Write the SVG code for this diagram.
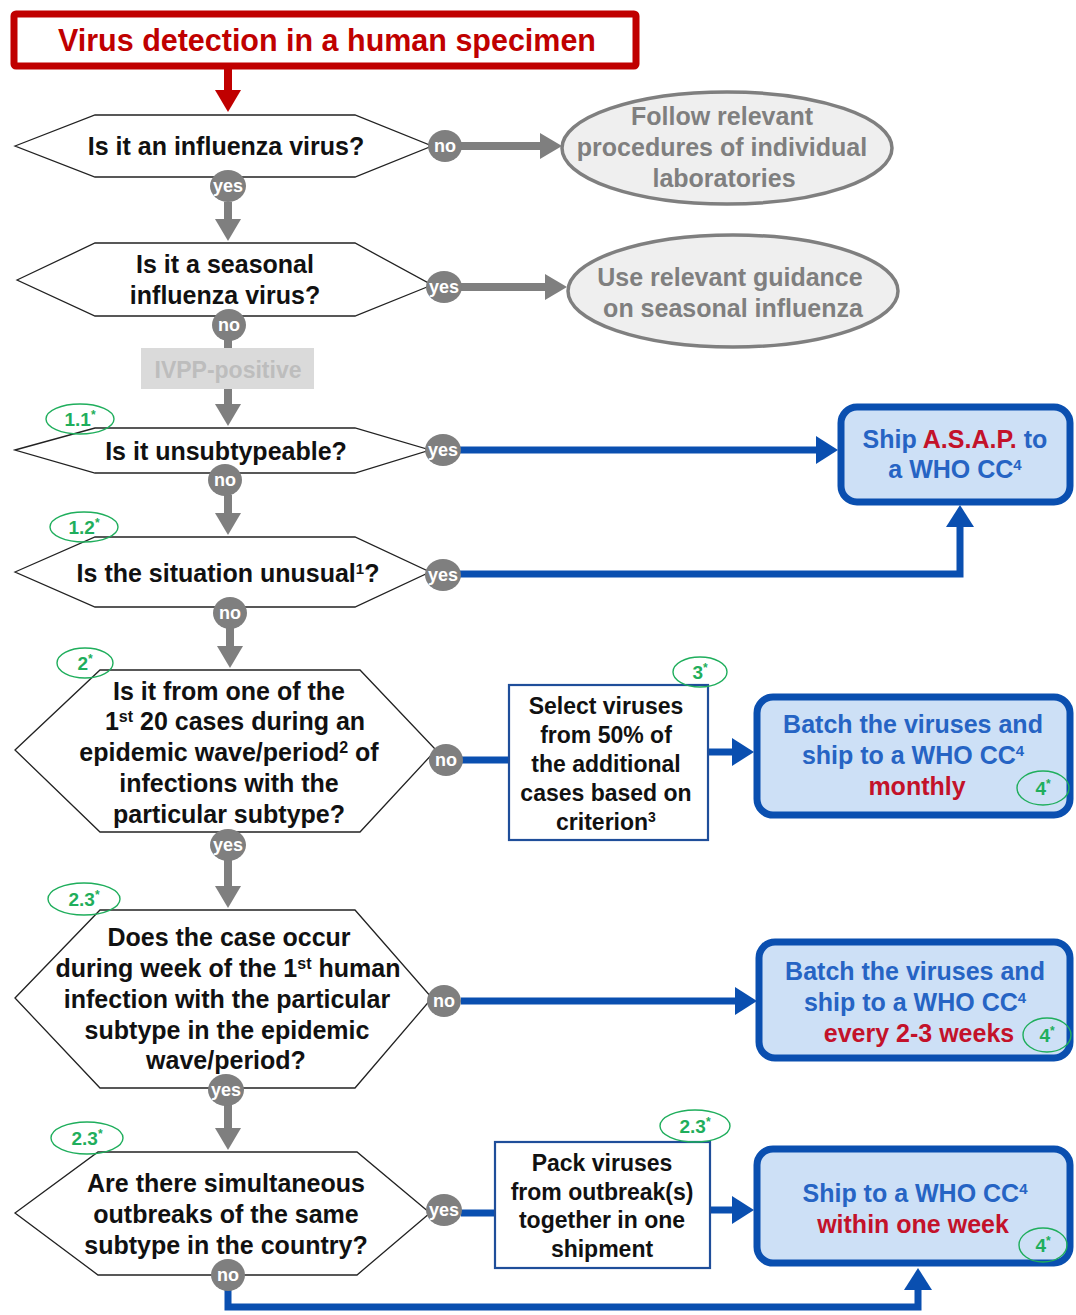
<svg xmlns="http://www.w3.org/2000/svg" width="1076" height="1315" viewBox="0 0 1076 1315">
<style>
text{font-family:"Liberation Sans",Arial,sans-serif;font-weight:bold;text-anchor:middle}
.q{font-size:25px;fill:#111}
.hex{fill:#fff;stroke:#222;stroke-width:1.3}
.ell{fill:#efefef;stroke:#7f7f7f;stroke-width:3.5}
.et{font-size:25px;fill:#7f7f7f}
.lbl{fill:#7f7f7f}
.lt{font-size:18px;fill:#fff}
.badge{fill:none;stroke:#1fae5c;stroke-width:1.4}
.bt{font-size:19px;fill:#1fae5c}
.bbox{fill:#cde0f6;stroke:#0a4fb0;stroke-width:7}
.bt2{font-size:25px;fill:#2664c4}
.red{fill:#c3122a}
.wbox{fill:#fff;stroke:#1f4e9a;stroke-width:2.2}
.wt{font-size:23px;fill:#111}
.g{stroke:#7f7f7f;stroke-width:8;fill:none}
.b{stroke:#0a4fb0;stroke-width:7;fill:none}
</style>
<defs>
<marker id="ag" markerUnits="userSpaceOnUse" viewBox="0 0 22 26" refX="8" refY="13" markerWidth="22" markerHeight="26" orient="auto"><path d="M0,0 L22,13 L0,26 z" fill="#7f7f7f"/></marker>
<marker id="ab" markerUnits="userSpaceOnUse" viewBox="0 0 22 28" refX="8" refY="14" markerWidth="22" markerHeight="28" orient="auto"><path d="M0,0 L22,14 L0,28 z" fill="#0a4fb0"/></marker>
<marker id="ar" markerUnits="userSpaceOnUse" viewBox="0 0 22 26" refX="8" refY="13" markerWidth="22" markerHeight="26" orient="auto"><path d="M0,0 L22,13 L0,26 z" fill="#c00000"/></marker>
</defs>

<g id="connectors">
<line x1="228" y1="68" x2="228" y2="98" stroke="#c00000" stroke-width="8" marker-end="url(#ar)"/>
<line class="g" x1="461" y1="146" x2="548" y2="146" marker-end="url(#ag)"/>
<line class="g" x1="228" y1="202" x2="228" y2="227" marker-end="url(#ag)"/>
<line class="g" x1="461" y1="287" x2="553" y2="287" marker-end="url(#ag)"/>
<line class="g" x1="228" y1="340" x2="228" y2="349"/>
<line class="g" x1="228" y1="389" x2="228" y2="412" marker-end="url(#ag)"/>
<line class="g" x1="228" y1="495" x2="228" y2="521" marker-end="url(#ag)"/>
<line class="g" x1="230" y1="628" x2="230" y2="654" marker-end="url(#ag)"/>
<line class="g" x1="228" y1="860" x2="228" y2="894" marker-end="url(#ag)"/>
<line class="g" x1="228" y1="1105" x2="228" y2="1136" marker-end="url(#ag)"/>
<line class="b" x1="460" y1="450" x2="824" y2="450" marker-end="url(#ab)"/>
<polyline class="b" points="460,574 960,574 960,519" marker-end="url(#ab)"/>
<line class="b" x1="462" y1="760" x2="509" y2="760"/>
<line class="b" x1="708" y1="752" x2="740" y2="752" marker-end="url(#ab)"/>
<line class="b" x1="461" y1="1001" x2="743" y2="1001" marker-end="url(#ab)"/>
<line class="b" x1="461" y1="1213" x2="495" y2="1213"/>
<line class="b" x1="710" y1="1210" x2="740" y2="1210" marker-end="url(#ab)"/>
<polyline class="b" points="228,1288 228,1307 918,1307 918,1282" marker-end="url(#ab)"/>
</g>

<g id="start">
<rect x="14" y="14" width="622" height="52" fill="#fff" stroke="#c00000" stroke-width="7" rx="2"/>
<text x="327" y="51" font-size="31" fill="#c00000" style="font-weight:bold" textLength="538" lengthAdjust="spacingAndGlyphs">Virus detection in a human specimen</text>
</g>

<g id="q1">
<polygon class="hex" points="15,146 95,115 355,115 432,146 355,177 95,177"/>
<text class="q" x="226" y="155">Is it an influenza virus?</text>
</g>
<g id="follow">
<ellipse class="ell" cx="727" cy="148" rx="165" ry="56"/>
<text class="et" x="722" y="125">Follow relevant</text>
<text class="et" x="722" y="156">procedures of individual</text>
<text class="et" x="724" y="187">laboratories</text>
</g>

<g id="q2">
<polygon class="hex" points="17,280 95,243 355,243 432,285 355,316 95,316"/>
<text class="q" x="225" y="273">Is it a seasonal</text>
<text class="q" x="225" y="304">influenza virus?</text>
</g>
<g id="seasonal">
<ellipse class="ell" cx="733" cy="291" rx="165" ry="56"/>
<text class="et" x="730" y="286">Use relevant guidance</text>
<text class="et" x="733" y="317">on seasonal influenza</text>
</g>

<g id="ivpp">
<rect x="141" y="348" width="173" height="41" fill="#dadada"/>
<text x="228" y="378" font-size="23" fill="#bdbdbd">IVPP-positive</text>
</g>

<g id="q3">
<polygon class="hex" points="15,450 95,428 355,428 430,450 355,473 95,473"/>
<text class="q" x="226" y="460">Is it unsubtypeable?</text>
</g>

<g id="q4">
<polygon class="hex" points="15,572 95,537 355,537 430,572 355,607 95,607"/>
<text class="q" x="228" y="582">Is the situation unusual<tspan font-size="15" baseline-shift="super">1</tspan>?</text>
</g>

<g id="asap">
<rect class="bbox" x="841" y="407" width="229" height="95" rx="16"/>
<text class="bt2" x="955" y="448">Ship <tspan class="red">A.S.A.P.</tspan> to</text>
<text class="bt2" x="955" y="478">a WHO CC<tspan font-size="15" baseline-shift="super">4</tspan></text>
</g>

<g id="q5">
<polygon class="hex" points="15,750 100,670 360,670 436,750 360,832 100,832"/>
<text class="q" x="229" y="700">Is it from one of the</text>
<text class="q" x="235" y="730">1<tspan font-size="16" baseline-shift="super">st</tspan> 20 cases during an</text>
<text class="q" x="229" y="761">epidemic wave/period<tspan font-size="16" baseline-shift="super">2</tspan> of</text>
<text class="q" x="229" y="792">infections with the</text>
<text class="q" x="229" y="823">particular subtype?</text>
</g>

<g id="select">
<rect class="wbox" x="509" y="685" width="199" height="155"/>
<text class="wt" x="606" y="714">Select viruses</text>
<text class="wt" x="606" y="743">from 50% of</text>
<text class="wt" x="606" y="772">the additional</text>
<text class="wt" x="606" y="801">cases based on</text>
<text class="wt" x="606" y="830">criterion<tspan font-size="14" baseline-shift="super">3</tspan></text>
</g>

<g id="batch1">
<rect class="bbox" x="757" y="697" width="313" height="118" rx="16"/>
<text class="bt2" x="913" y="733">Batch the viruses and</text>
<text class="bt2" x="913" y="764">ship to a WHO CC<tspan font-size="15" baseline-shift="super">4</tspan></text>
<text class="bt2 red" x="917" y="795">monthly</text>
</g>

<g id="q6">
<polygon class="hex" points="15,998 100,910 355,910 432,998 355,1088 100,1088"/>
<text class="q" x="229" y="946">Does the case occur</text>
<text class="q" x="228" y="977">during week of the 1<tspan font-size="16" baseline-shift="super">st</tspan> human</text>
<text class="q" x="227" y="1008">infection with the particular</text>
<text class="q" x="227" y="1039">subtype in the epidemic</text>
<text class="q" x="226" y="1069">wave/period?</text>
</g>

<g id="batch2">
<rect class="bbox" x="759" y="942" width="311" height="116" rx="16"/>
<text class="bt2" x="915" y="980">Batch the viruses and</text>
<text class="bt2" x="915" y="1011">ship to a WHO CC<tspan font-size="15" baseline-shift="super">4</tspan></text>
<text class="bt2 red" x="919" y="1042">every 2-3 weeks</text>
</g>

<g id="q7">
<polygon class="hex" points="15,1213 98,1152 357,1152 430,1213 357,1275 98,1275"/>
<text class="q" x="226" y="1192">Are there simultaneous</text>
<text class="q" x="226" y="1223">outbreaks of the same</text>
<text class="q" x="226" y="1254">subtype in the country?</text>
</g>

<g id="pack">
<rect class="wbox" x="495" y="1142" width="215" height="126"/>
<text class="wt" x="602" y="1171">Pack viruses</text>
<text class="wt" x="602" y="1200">from outbreak(s)</text>
<text class="wt" x="602" y="1228">together in one</text>
<text class="wt" x="602" y="1257">shipment</text>
</g>

<g id="ship">
<rect class="bbox" x="757" y="1149" width="313" height="114" rx="16"/>
<text class="bt2" x="915" y="1202">Ship to a WHO CC<tspan font-size="15" baseline-shift="super">4</tspan></text>
<text class="bt2 red" x="913" y="1233">within one week</text>
</g>

<g id="labels">
<ellipse class="lbl" cx="445" cy="146" rx="17" ry="16"/><text class="lt" x="445" y="152">no</text>
<ellipse class="lbl" cx="228" cy="186" rx="18" ry="16"/><text class="lt" x="228" y="192">yes</text>
<ellipse class="lbl" cx="444" cy="287" rx="18" ry="16"/><text class="lt" x="444" y="293">yes</text>
<ellipse class="lbl" cx="229" cy="325" rx="17" ry="16"/><text class="lt" x="229" y="331">no</text>
<ellipse class="lbl" cx="443" cy="450" rx="18" ry="16"/><text class="lt" x="443" y="456">yes</text>
<ellipse class="lbl" cx="225" cy="480" rx="17" ry="16"/><text class="lt" x="225" y="486">no</text>
<ellipse class="lbl" cx="443" cy="575" rx="18" ry="16"/><text class="lt" x="443" y="581">yes</text>
<ellipse class="lbl" cx="230" cy="613" rx="17" ry="16"/><text class="lt" x="230" y="619">no</text>
<ellipse class="lbl" cx="446" cy="760" rx="17" ry="16"/><text class="lt" x="446" y="766">no</text>
<ellipse class="lbl" cx="228" cy="845" rx="18" ry="16"/><text class="lt" x="228" y="851">yes</text>
<ellipse class="lbl" cx="444" cy="1001" rx="17" ry="16"/><text class="lt" x="444" y="1007">no</text>
<ellipse class="lbl" cx="226" cy="1090" rx="18" ry="16"/><text class="lt" x="226" y="1096">yes</text>
<ellipse class="lbl" cx="444" cy="1210" rx="18" ry="16"/><text class="lt" x="444" y="1216">yes</text>
<ellipse class="lbl" cx="228" cy="1275" rx="17" ry="16"/><text class="lt" x="228" y="1281">no</text>
</g>

<g id="badges">
<ellipse class="badge" cx="80" cy="419" rx="34" ry="15"/><text class="bt" x="80" y="426">1.1<tspan font-size="12" baseline-shift="super">*</tspan></text>
<ellipse class="badge" cx="84" cy="527" rx="34" ry="15"/><text class="bt" x="84" y="534">1.2<tspan font-size="12" baseline-shift="super">*</tspan></text>
<ellipse class="badge" cx="85" cy="663" rx="28" ry="15"/><text class="bt" x="85" y="670">2<tspan font-size="12" baseline-shift="super">*</tspan></text>
<ellipse class="badge" cx="700" cy="672" rx="27" ry="15"/><text class="bt" x="700" y="679">3<tspan font-size="12" baseline-shift="super">*</tspan></text>
<ellipse class="badge" cx="1043" cy="788" rx="26" ry="17"/><text class="bt" x="1043" y="795">4<tspan font-size="12" baseline-shift="super">*</tspan></text>
<ellipse class="badge" cx="84" cy="899" rx="36" ry="16"/><text class="bt" x="84" y="906">2.3<tspan font-size="12" baseline-shift="super">*</tspan></text>
<ellipse class="badge" cx="1047" cy="1035" rx="24" ry="17"/><text class="bt" x="1047" y="1042">4<tspan font-size="12" baseline-shift="super">*</tspan></text>
<ellipse class="badge" cx="87" cy="1138" rx="36" ry="16"/><text class="bt" x="87" y="1145">2.3<tspan font-size="12" baseline-shift="super">*</tspan></text>
<ellipse class="badge" cx="695" cy="1126" rx="35" ry="16"/><text class="bt" x="695" y="1133">2.3<tspan font-size="12" baseline-shift="super">*</tspan></text>
<ellipse class="badge" cx="1043" cy="1245" rx="24" ry="17"/><text class="bt" x="1043" y="1252">4<tspan font-size="12" baseline-shift="super">*</tspan></text>
</g>
</svg>
